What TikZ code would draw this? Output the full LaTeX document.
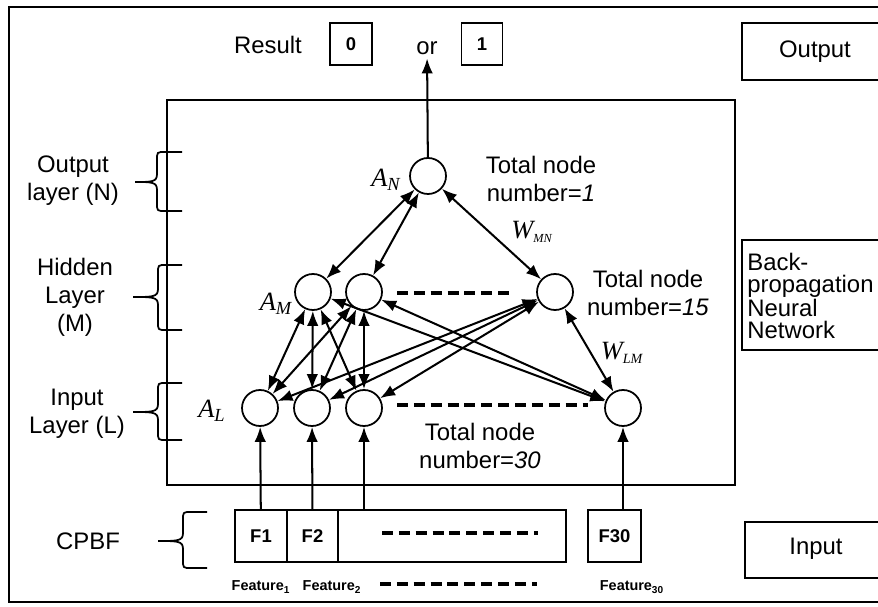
\documentclass[tikz,border=0pt]{standalone}
\usepackage{fontspec}
\setmainfont{Liberation Sans}
\newfontfamily\wfont{Liberation Serif}
\usetikzlibrary{arrows.meta}

\begin{document}
\begin{tikzpicture}[x=0.02cm,y=-0.02cm]
\tikzset{
  neuron/.style={circle,draw=black,line width=1pt,minimum size=7.2mm,inner sep=0pt},
  netedge/.style={draw=black,line width=1.15pt,line cap=round,line join=round},
  twoway/.style={netedge,{Latex[length=3mm,width=2.3mm]}-{Latex[length=3mm,width=2.3mm]}},
  oneway/.style={netedge,-{Latex[length=3mm,width=2.3mm]}},
  boxline/.style={draw=black,line width=1pt},
  featbox/.style={rectangle,draw=black,line width=1pt,minimum height=10.4mm,inner sep=0pt,font=\bfseries\fontsize{10.5}{12}\selectfont},
  valbox/.style={rectangle,draw=black,line width=1pt,minimum height=8.4mm,minimum width=8.4mm,inner sep=0pt,font=\bfseries\fontsize{10.5}{12}\selectfont},
  gapdash/.style={draw=black,line width=2.2pt,dash pattern=on 6.2pt off 3.4pt},
  bracket/.style={draw=black,line width=1pt},
  txt/.style={font=\fontsize{13.6}{16}\selectfont,align=center,inner sep=0pt},
  mathlbl/.style={font=\wfont\itshape\fontsize{15}{16}\selectfont,inner sep=0pt},
  featlbl/.style={font=\bfseries\fontsize{8.2}{10}\selectfont,inner sep=0pt}
}
\useasboundingbox (0,0) rectangle (878,607);
\clip (0,0) rectangle (878,607);
\fill[white] (0,0) rectangle (878,607);
% frames
\draw[boxline] (9,7) rectangle (900,602);
\draw[boxline,line width=1.2pt] (167,100) rectangle (735,485);
\draw[boxline] (742,23) rectangle (900,80);
\draw[boxline] (742,240) rectangle (900,350);
\draw[boxline] (745,522) rectangle (900,578);
% side texts
\node[txt] (t_output) at (815,52) {Output};
\node[txt,align=left,anchor=west,font=\fontsize{13.6}{12.4}\selectfont] (t_bpnn) at (747,296) {Back-\\propagation\\Neural\\Network};
\node[txt] (t_input) at (816,549) {Input};
\node[txt] (t_layerN) at (73,181) {Output\\layer (N)};
\node[txt] (t_layerM) at (75,297) {Hidden\\Layer\\(M)};
\node[txt] (t_layerL) at (77,414) {Input\\Layer (L)};
\node[txt] (t_cpbf) at (88,541) {CPBF};
% result row
\node[txt] (t_result) at (268,45) {Result};
\node[valbox] (b_zero) at (351,44) {0};
\node[txt,inner sep=2pt] (t_or) at (427,48) {or};
\node[valbox,minimum width=8.2mm] (b_one) at (482,44) {1};
% neurons
\node[neuron] (n_N) at (428,176) {};
\node[neuron] (n_M1) at (313,292) {};
\node[neuron] (n_M2) at (364,292) {};
\node[neuron] (n_M15) at (555,292) {};
\node[neuron] (n_L1) at (260,408) {};
\node[neuron] (n_L2) at (312,408) {};
\node[neuron] (n_L3) at (364,408) {};
\node[neuron] (n_L30) at (623,408) {};
% neuron labels
\node[mathlbl] (a_N) at (386,180) {A\textsubscript{N}};
\node[mathlbl] (a_M) at (276,304) {A\textsubscript{M}};
\node[mathlbl] (a_L) at (212,411) {A\textsubscript{L}};
\node[mathlbl] (w_MN) at (532,232) {W\textsubscript{\fontsize{7}{8}\selectfont MN}};
\node[mathlbl] (w_LM) at (622,353) {W\textsubscript{\fontsize{8}{8}\selectfont LM}};
\node[txt] (c_N) at (541,179) {Total node\\number=\textit{1}};
\node[txt] (c_M) at (648,293) {Total node\\number=\textit{15}};
\node[txt] (c_L) at (480,446) {Total node\\number=\textit{30}};
\draw[gapdash] (397,293) -- (515,293);
\draw[gapdash] (397,405) -- (588,405);
% feature boxes
\node[featbox,minimum width=10.4mm] (n_F1) at (261,536) {F1};
\node[featbox,minimum width=10.2mm] (n_F2) at (312.5,536) {F2};
\node[featbox,minimum width=45.6mm] (n_Frest) at (452,536) {};
\node[featbox,minimum width=10.6mm] (n_F30) at (614.5,536) {F30};
\draw[gapdash] (382,533) -- (538,533);
\node[featlbl] (f_1) at (261,587) {Feature\textsubscript{1}};
\node[featlbl] (f_2) at (332,587) {Feature\textsubscript{2}};
\draw[gapdash] (380,584) -- (537,584);
\node[featlbl] (f_30) at (632,587) {Feature\textsubscript{30}};
% braces
\draw[bracket] (182,152) -- (165,152) .. controls (157,152) .. (157,160) -- (157,174) .. controls (157,182) and (152,182) .. (135,182) (135,182) .. controls (152,182) and (157,182) .. (157,190) -- (157,203) .. controls (157,211) .. (165,211) -- (182,211);
\draw[bracket] (182,265) -- (166,265) .. controls (158,265) .. (158,273) -- (158,289) .. controls (158,297) and (153,297) .. (133,297) (133,297) .. controls (153,297) and (158,297) .. (158,305) -- (158,322) .. controls (158,330) .. (166,330) -- (182,330);
\draw[bracket] (182,383) -- (166,383) .. controls (158,383) .. (158,391) -- (158,404) .. controls (158,412) and (153,412) .. (133,412) (133,412) .. controls (153,412) and (158,412) .. (158,420) -- (158,432) .. controls (158,440) .. (166,440) -- (182,440);
\draw[bracket] (207,512) -- (191,512) .. controls (183,512) .. (183,520) -- (183,533) .. controls (183,541) and (178,541) .. (158,541) (158,541) .. controls (178,541) and (183,541) .. (183,549) -- (183,560) .. controls (183,568) .. (191,568) -- (207,568);
% edges
\draw[oneway] (n_N) -- (t_or);
\draw[twoway] (n_N) -- (n_M1);
\draw[twoway] (n_N) -- (n_M2);
\draw[twoway] (n_N) -- (n_M15);
\draw[twoway] (n_M1) -- (n_L1);
\draw[twoway] (n_M1) -- (n_L2);
\draw[twoway] (n_M1) -- (n_L3);
\draw[twoway] (n_M1) -- (n_L30);
\draw[twoway] (n_M2) -- (n_L1);
\draw[twoway] (n_M2) -- (n_L2);
\draw[twoway] (n_M2) -- (n_L3);
\draw[twoway] (n_M2) -- (n_L30);
\draw[twoway] (n_M15) -- (n_L1);
\draw[twoway] (n_M15) -- (n_L2);
\draw[twoway] (n_M15) -- (n_L3);
\draw[twoway] (n_M15) -- (n_L30);
\draw[oneway] (n_F1) -- (n_L1);
\draw[oneway] (n_F2) -- (n_L2);
\draw[oneway] (n_Frest.north -| n_L3) -- (n_L3);
\draw[oneway] (n_F30.north -| n_L30) -- (n_L30);
\end{tikzpicture}
\end{document}
